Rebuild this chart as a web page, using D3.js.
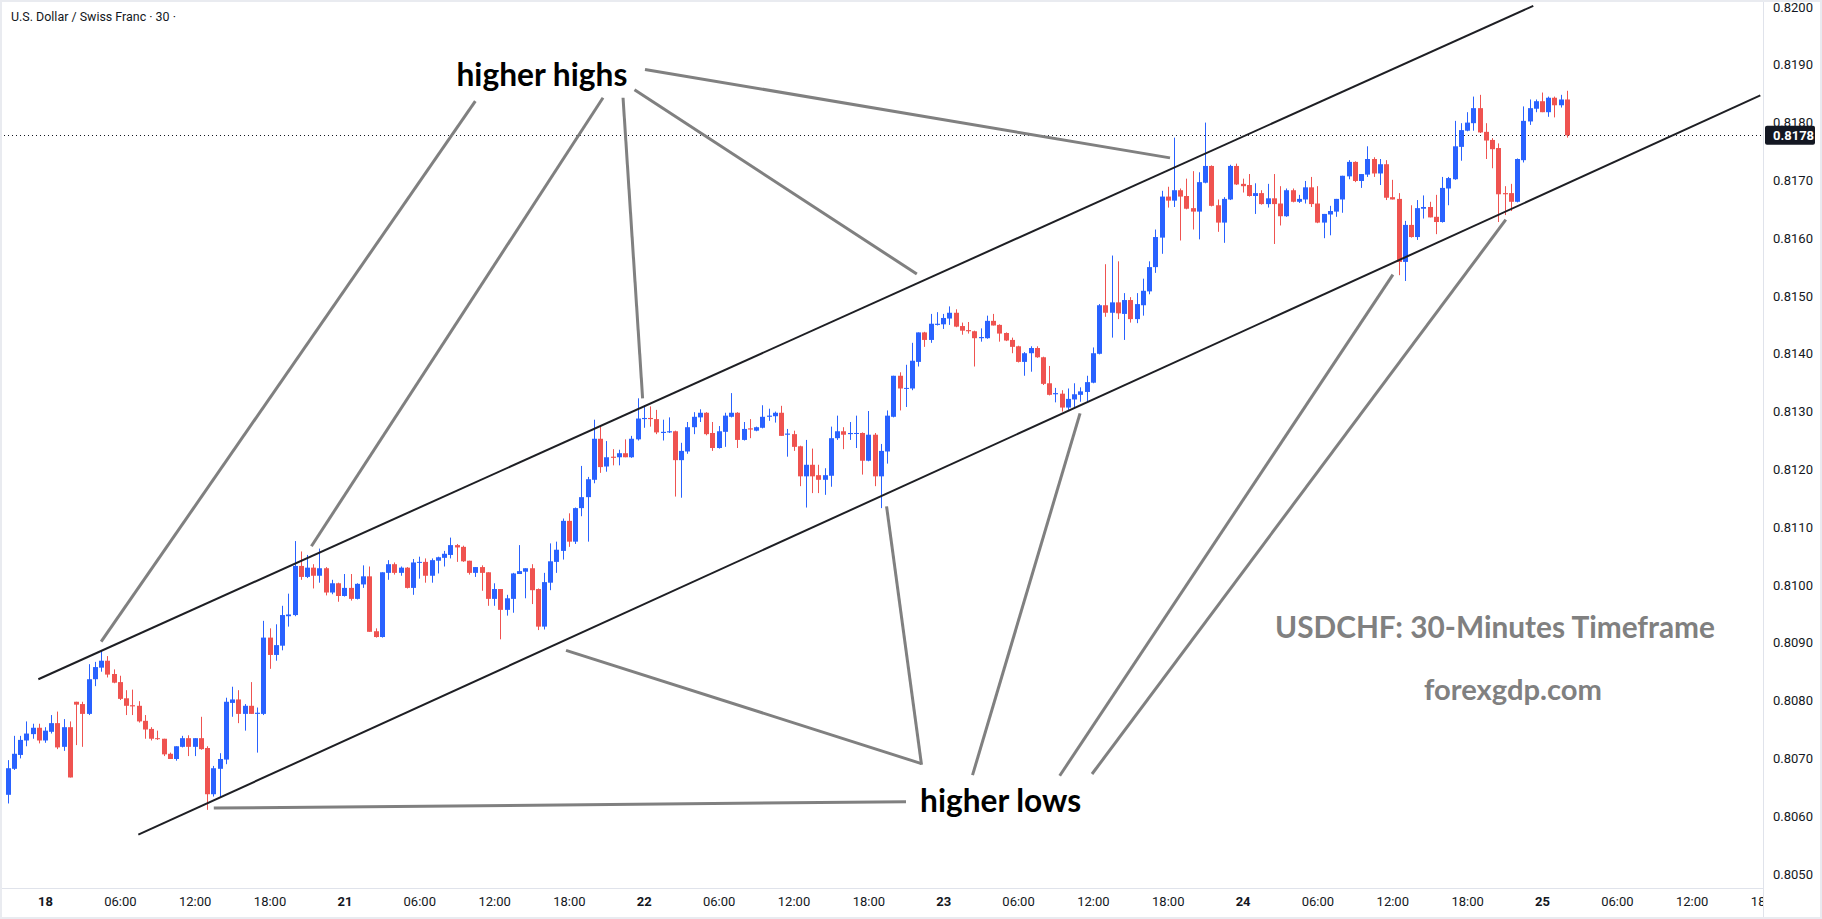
<!DOCTYPE html>
<html>
<head>
<meta charset="utf-8">
<script src="https://cdn.jsdelivr.net/npm/d3@7"></script>
<style>
  body { margin: 0; background: #fff; }
  svg { display: block; }
</style>
</head>
<body>
<div id="chart"></div>
<script>
// bars are counted in half hours from the start of day "18" (first bar is at -6)
var firstBar = -6;

var opens = [
  0.80637,0.80682,0.80706,0.80731,0.80742,0.80753,
  0.80731,0.80746,0.80761,0.80720,0.80754,0.80798,0.80794,0.80777,0.80837,0.80857,
  0.80869,0.80846,0.80832,0.80804,0.80792,0.80791,0.80765,0.80751,0.80735,0.80734,
  0.80708,0.80699,0.80720,0.80735,0.80720,0.80735,0.80718,0.80638,0.80682,0.80698,
  0.80796,0.80802,0.80777,0.80791,0.80777,0.80777,0.80909,0.80879,0.80895,0.80946,
  0.80948,0.81033,0.81014,0.81030,0.81016,0.81029,0.80987,0.81003,0.80981,0.80995,
  0.80976,0.81001,0.81015,0.80920,0.80910,0.81021,0.81036,0.81021,0.81030,0.80995,
  0.81039,0.81040,0.81016,0.81042,0.81047,0.81052,0.81069,0.81066,0.81042,0.81021,
  0.81031,0.81022,0.80976,0.80993,0.80957,0.80976,0.81019,0.81023,0.81029,0.80993,
  0.80928,0.81004,0.81040,0.81059,0.81111,0.81075,0.81133,0.81152,0.81182,0.81253,
  0.81205,0.81222,0.81221,0.81228,0.81221,0.81252,0.81287,0.81289,0.81287,0.81263,
  0.81264,0.81266,0.81216,0.81231,0.81273,0.81290,0.81298,0.81263,0.81237,0.81265,
  0.81291,0.81298,0.81251,0.81271,0.81267,0.81272,0.81291,0.81292,0.81298,0.81260,
  0.81261,0.81240,0.81188,0.81208,0.81190,0.81182,0.81189,0.81254,0.81266,0.81261,
  0.81262,0.81263,0.81215,0.81260,0.81188,0.81231,0.81291,0.81362,0.81340,0.81340,
  0.81386,0.81437,0.81424,0.81450,0.81451,0.81461,0.81471,0.81448,0.81441,0.81439,
  0.81427,0.81427,0.81457,0.81450,0.81436,0.81424,0.81413,0.81386,0.81401,0.81410,
  0.81394,0.81349,0.81330,0.81331,0.81307,0.81321,0.81329,0.81334,0.81350,0.81400,
  0.81484,0.81471,0.81489,0.81469,0.81493,0.81460,0.81484,0.81508,0.81550,0.81601,
  0.81672,0.81665,0.81683,0.81673,0.81652,0.81646,0.81696,0.81725,0.81657,0.81627,
  0.81667,0.81725,0.81694,0.81692,0.81673,0.81678,0.81659,0.81669,0.81660,0.81638,
  0.81683,0.81663,0.81667,0.81688,0.81660,0.81627,0.81641,0.81646,0.81667,0.81707,
  0.81732,0.81699,0.81710,0.81737,0.81712,0.81728,0.81671,0.81668,0.81559,0.81623,
  0.81602,0.81651,0.81654,0.81637,0.81628,0.81686,0.81702,0.81758,0.81786,0.81799,
  0.81825,0.81784,0.81770,0.81756,0.81678,0.81678,0.81663,0.81735,0.81802,0.81824,
  0.81837,0.81818,0.81843,0.81830,0.81840
];
var highs = [
  0.80697,0.80739,0.80739,0.80764,0.80760,0.80760,
  0.80754,0.80775,0.80781,0.80768,0.80764,0.80798,0.80798,0.80863,0.80867,0.80886,
  0.80877,0.80854,0.80843,0.80818,0.80819,0.80799,0.80775,0.80754,0.80748,0.80734,
  0.80710,0.80721,0.80739,0.80740,0.80735,0.80772,0.80721,0.80687,0.80709,0.80805,
  0.80824,0.80818,0.80794,0.80832,0.80788,0.80938,0.80925,0.80932,0.80964,0.80985,
  0.81076,0.81058,0.81052,0.81036,0.81063,0.81031,0.81009,0.81004,0.81019,0.81019,
  0.81003,0.81034,0.81032,0.80925,0.81022,0.81043,0.81039,0.81032,0.81031,0.81045,
  0.81049,0.81046,0.81046,0.81049,0.81059,0.81082,0.81071,0.81068,0.81042,0.81031,
  0.81034,0.81022,0.81003,0.80993,0.80983,0.81021,0.81069,0.81029,0.81036,0.80994,
  0.81021,0.81072,0.81075,0.81115,0.81124,0.81134,0.81206,0.81187,0.81286,0.81274,
  0.81249,0.81235,0.81234,0.81252,0.81258,0.81323,0.81311,0.81309,0.81303,0.81286,
  0.81290,0.81267,0.81246,0.81282,0.81299,0.81304,0.81299,0.81282,0.81275,0.81298,
  0.81332,0.81299,0.81282,0.81287,0.81274,0.81311,0.81305,0.81300,0.81310,0.81270,
  0.81267,0.81241,0.81251,0.81236,0.81208,0.81202,0.81274,0.81293,0.81273,0.81282,
  0.81293,0.81264,0.81301,0.81263,0.81244,0.81302,0.81362,0.81368,0.81381,0.81419,
  0.81437,0.81438,0.81469,0.81472,0.81469,0.81482,0.81477,0.81454,0.81455,0.81440,
  0.81444,0.81466,0.81469,0.81451,0.81437,0.81428,0.81414,0.81403,0.81413,0.81413,
  0.81395,0.81379,0.81341,0.81337,0.81340,0.81349,0.81342,0.81362,0.81411,0.81486,
  0.81555,0.81570,0.81560,0.81505,0.81498,0.81505,0.81530,0.81560,0.81615,0.81682,
  0.81689,0.81774,0.81686,0.81703,0.81716,0.81714,0.81800,0.81726,0.81667,0.81671,
  0.81727,0.81729,0.81703,0.81711,0.81695,0.81683,0.81694,0.81711,0.81690,0.81686,
  0.81686,0.81675,0.81699,0.81706,0.81690,0.81642,0.81656,0.81668,0.81708,0.81735,
  0.81733,0.81711,0.81759,0.81740,0.81737,0.81735,0.81701,0.81678,0.81630,0.81657,
  0.81666,0.81674,0.81663,0.81675,0.81706,0.81706,0.81803,0.81799,0.81818,0.81845,
  0.81848,0.81799,0.81773,0.81764,0.81690,0.81694,0.81738,0.81828,0.81840,0.81840,
  0.81852,0.81845,0.81845,0.81848,0.81855
];
var lows = [
  0.80622,0.80680,0.80700,0.80721,0.80734,0.80726,
  0.80727,0.80743,0.80716,0.80713,0.80667,0.80723,0.80720,0.80775,0.80825,0.80850,
  0.80840,0.80830,0.80801,0.80775,0.80775,0.80762,0.80734,0.80731,0.80732,0.80704,
  0.80699,0.80696,0.80719,0.80704,0.80704,0.80715,0.80611,0.80634,0.80633,0.80690,
  0.80772,0.80761,0.80748,0.80777,0.80710,0.80775,0.80855,0.80869,0.80887,0.80928,
  0.80946,0.81009,0.81012,0.80994,0.81004,0.80982,0.80984,0.80971,0.80980,0.80973,
  0.80975,0.80995,0.80919,0.80909,0.80909,0.81009,0.81018,0.81016,0.80994,0.80983,
  0.81011,0.81004,0.81004,0.81020,0.81032,0.81046,0.81040,0.81040,0.81018,0.81014,
  0.80990,0.80964,0.80964,0.80906,0.80947,0.80952,0.81019,0.80977,0.80967,0.80922,
  0.80923,0.80991,0.81021,0.81044,0.81066,0.81071,0.81119,0.81075,0.81176,0.81194,
  0.81196,0.81207,0.81207,0.81221,0.81220,0.81250,0.81272,0.81274,0.81261,0.81250,
  0.81263,0.81153,0.81151,0.81227,0.81261,0.81282,0.81259,0.81232,0.81236,0.81239,
  0.81290,0.81237,0.81250,0.81254,0.81266,0.81271,0.81284,0.81281,0.81258,0.81222,
  0.81232,0.81171,0.81134,0.81159,0.81159,0.81156,0.81170,0.81251,0.81235,0.81251,
  0.81237,0.81191,0.81214,0.81171,0.81133,0.81210,0.81290,0.81302,0.81308,0.81337,
  0.81378,0.81412,0.81419,0.81449,0.81443,0.81450,0.81446,0.81433,0.81435,0.81378,
  0.81421,0.81426,0.81449,0.81421,0.81422,0.81401,0.81385,0.81362,0.81369,0.81393,
  0.81346,0.81328,0.81316,0.81300,0.81303,0.81308,0.81317,0.81317,0.81349,0.81399,
  0.81464,0.81428,0.81460,0.81424,0.81454,0.81453,0.81466,0.81503,0.81540,0.81573,
  0.81653,0.81654,0.81596,0.81650,0.81615,0.81598,0.81695,0.81655,0.81611,0.81592,
  0.81666,0.81692,0.81679,0.81672,0.81642,0.81658,0.81653,0.81590,0.81622,0.81637,
  0.81662,0.81661,0.81660,0.81654,0.81626,0.81600,0.81605,0.81637,0.81644,0.81702,
  0.81697,0.81687,0.81706,0.81706,0.81692,0.81666,0.81667,0.81536,0.81526,0.81601,
  0.81597,0.81634,0.81636,0.81607,0.81627,0.81657,0.81701,0.81734,0.81785,0.81786,
  0.81782,0.81737,0.81721,0.81628,0.81640,0.81647,0.81662,0.81731,0.81796,0.81818,
  0.81818,0.81810,0.81809,0.81826,0.81774
];
var closes = [
  0.80683,0.80708,0.80732,0.80743,0.80753,0.80731,
  0.80748,0.80761,0.80719,0.80754,0.80667,0.80793,0.80777,0.80837,0.80858,0.80869,
  0.80845,0.80831,0.80803,0.80791,0.80790,0.80764,0.80750,0.80734,0.80734,0.80707,
  0.80699,0.80721,0.80735,0.80720,0.80735,0.80716,0.80638,0.80683,0.80699,0.80798,
  0.80802,0.80777,0.80791,0.80777,0.80779,0.80909,0.80879,0.80896,0.80948,0.80949,
  0.81033,0.81014,0.81030,0.81016,0.81029,0.80987,0.81003,0.80981,0.80995,0.80976,
  0.81002,0.81015,0.80919,0.80910,0.81022,0.81036,0.81021,0.81030,0.80995,0.81039,
  0.81040,0.81016,0.81043,0.81048,0.81054,0.81069,0.81065,0.81041,0.81021,0.81031,
  0.81021,0.80976,0.80993,0.80957,0.80977,0.81020,0.81024,0.81029,0.80991,0.80928,
  0.81005,0.81041,0.81061,0.81111,0.81075,0.81133,0.81152,0.81183,0.81253,0.81204,
  0.81221,0.81220,0.81228,0.81221,0.81253,0.81288,0.81289,0.81287,0.81264,0.81265,
  0.81266,0.81216,0.81232,0.81273,0.81291,0.81298,0.81261,0.81237,0.81266,0.81293,
  0.81298,0.81251,0.81270,0.81269,0.81273,0.81291,0.81293,0.81298,0.81258,0.81262,
  0.81239,0.81188,0.81208,0.81188,0.81182,0.81190,0.81254,0.81266,0.81260,0.81263,
  0.81263,0.81215,0.81260,0.81188,0.81232,0.81293,0.81362,0.81340,0.81341,0.81388,
  0.81437,0.81424,0.81452,0.81452,0.81462,0.81471,0.81447,0.81440,0.81439,0.81427,
  0.81429,0.81457,0.81449,0.81435,0.81423,0.81412,0.81386,0.81401,0.81410,0.81394,
  0.81348,0.81329,0.81332,0.81307,0.81322,0.81330,0.81335,0.81351,0.81401,0.81484,
  0.81471,0.81489,0.81470,0.81493,0.81460,0.81486,0.81509,0.81550,0.81602,0.81672,
  0.81665,0.81683,0.81672,0.81651,0.81646,0.81697,0.81725,0.81656,0.81627,0.81668,
  0.81725,0.81693,0.81690,0.81673,0.81678,0.81659,0.81669,0.81659,0.81638,0.81683,
  0.81663,0.81668,0.81688,0.81659,0.81627,0.81642,0.81647,0.81668,0.81708,0.81732,
  0.81699,0.81711,0.81737,0.81712,0.81728,0.81670,0.81667,0.81559,0.81623,0.81602,
  0.81652,0.81654,0.81636,0.81628,0.81687,0.81704,0.81759,0.81787,0.81800,0.81825,
  0.81783,0.81769,0.81754,0.81676,0.81676,0.81663,0.81737,0.81803,0.81825,0.81837,
  0.81818,0.81843,0.81830,0.81840,0.81778
];

var yTicks = [0.8050,0.8060,0.8070,0.8080,0.8090,0.8100,0.8110,0.8120,0.8130,0.8140,
              0.8150,0.8160,0.8170,0.8180,0.8190,0.8200];
var xTickBars = [0,12,24,36,48,60,72,84,96,108,120,132,144,156,168,180,192,204,216,228,240,252,264,276];
var xTickLabels = ["18","06:00","12:00","18:00","21","06:00","12:00","18:00","22","06:00","12:00","18:00",
                   "23","06:00","12:00","18:00","24","06:00","12:00","18:00","25","06:00","12:00","18:00"];

// drawings, as [bar, price] anchors
var channelUpper = [[-1.07, 0.80837], [238.6, 0.82002]];
var channelLower = [[14.96, 0.80568], [275, 0.81847]];
var highsPointers = [
  [[68.99, 0.81837], [9.0, 0.80902]],
  [[89.46, 0.81843], [42.71, 0.81067]],
  [[92.67, 0.81843], [95.81, 0.81323]],
  [[94.51, 0.81857], [139.77, 0.81538]],
  [[96.19, 0.81892], [180.36, 0.81739]]
];
var lowsPointers = [
  [[27.06, 0.80614], [138.04, 0.80625]],
  [[83.53, 0.80887], [140.52, 0.80691]],
  [[134.92, 0.81136], [140.52, 0.80689]],
  [[165.94, 0.81297], [148.7, 0.80671]],
  [[216.1, 0.81537], [162.68, 0.80670]],
  [[234.2, 0.81632], [167.86, 0.80673]]
];
var highsLabel = [79.67, 0.81881];
var lowsLabel = [153.2, 0.80625];

var width = 1822, height = 919;
var plotRight = 1763, plotBottom = 888;
var upColor = "#2962ff", downColor = "#ef5350";
var textColor = "#131722";

var svg = d3.select("#chart").append("svg")
    .attr("width", width)
    .attr("height", height)
    .style("font-family", "Roboto, 'Liberation Sans', sans-serif");

svg.append("rect").attr("width", width).attr("height", height).attr("fill", "#fff");

var defs = svg.append("defs");
defs.append("clipPath").attr("id", "plotClip")
  .append("rect").attr("x", 0).attr("y", 0).attr("width", plotRight).attr("height", plotBottom);

var x = d3.scaleLinear().domain([0, 240]).range([45, 1542]);
var y = d3.scaleLinear().domain([0.8050, 0.8200]).range([874, 7]);

var bars = opens.map(function(o, i) {
  return {k: firstBar + i, o: o, h: highs[i], l: lows[i], c: closes[i]};
});
var barColor = function(d) { return d.c >= d.o ? upColor : downColor; };
var cx = function(d) { return Math.round(x(d.k)); };

var plot = svg.append("g").attr("clip-path", "url(#plotClip)");

// last price dotted line
var last = bars[bars.length - 1];
plot.append("line")
    .attr("x1", 0).attr("x2", plotRight)
    .attr("y1", Math.round(y(last.c)) + 0.5).attr("y2", Math.round(y(last.c)) + 0.5)
    .attr("stroke", textColor)
    .attr("stroke-width", 1)
    .attr("stroke-dasharray", "1,3");

plot.selectAll(".wick")
    .data(bars)
    .enter().append("line")
    .attr("class", "wick")
    .attr("x1", d => cx(d) + 0.5)
    .attr("x2", d => cx(d) + 0.5)
    .attr("y1", d => y(d.h))
    .attr("y2", d => y(d.l))
    .attr("stroke", barColor)
    .attr("stroke-width", 1);

plot.selectAll(".body")
    .data(bars)
    .enter().append("rect")
    .attr("class", "body")
    .attr("x", d => cx(d) - 2)
    .attr("width", 5)
    .attr("y", d => y(Math.max(d.o, d.c)))
    .attr("height", d => Math.max(1, Math.abs(y(d.o) - y(d.c))))
    .attr("fill", barColor);

// channel
var lineGen = d3.line().x(d => x(d[0])).y(d => y(d[1]));
plot.selectAll(".channel")
    .data([channelUpper, channelLower])
    .enter().append("path")
    .attr("class", "channel")
    .attr("d", lineGen)
    .attr("fill", "none")
    .attr("stroke", "#1e1f24")
    .attr("stroke-width", 2);

// pointers
plot.selectAll(".pointer")
    .data(highsPointers.concat(lowsPointers))
    .enter().append("path")
    .attr("class", "pointer")
    .attr("d", lineGen)
    .attr("fill", "none")
    .attr("stroke", "#808080")
    .attr("stroke-width", 3);

function fitWidth(sel, target) {
  var w = sel.node().getComputedTextLength();
  var fs = parseFloat(sel.attr("font-size"));
  sel.attr("font-size", (fs * target / w).toFixed(2));
}

var hh = plot.append("text")
    .attr("x", x(highsLabel[0])).attr("y", y(highsLabel[1]))
    .attr("text-anchor", "middle").attr("dy", "0.32em")
    .attr("font-family", "Lato, 'Open Sans', sans-serif")
    .attr("font-weight", 700).attr("font-size", 32)
    .attr("fill", "#000")
    .text("higher highs");
fitWidth(hh, 171);

var hl = plot.append("text")
    .attr("x", x(lowsLabel[0])).attr("y", y(lowsLabel[1]))
    .attr("text-anchor", "middle").attr("dy", "0.32em")
    .attr("font-family", "Lato, 'Open Sans', sans-serif")
    .attr("font-weight", 700).attr("font-size", 32)
    .attr("fill", "#000")
    .text("higher lows");
fitWidth(hl, 161);

var wm1 = plot.append("text")
    .attr("x", 1495).attr("y", 628)
    .attr("text-anchor", "middle").attr("dy", "0.35em")
    .attr("font-family", "Lato, 'Open Sans', sans-serif")
    .attr("font-weight", 700).attr("font-size", 30)
    .attr("fill", "#808080")
    .text("USDCHF: 30-Minutes Timeframe");
fitWidth(wm1, 440);

var wm2 = plot.append("text")
    .attr("x", 1513).attr("y", 690)
    .attr("text-anchor", "middle").attr("dy", "0.35em")
    .attr("font-family", "Lato, 'Open Sans', sans-serif")
    .attr("font-weight", 700).attr("font-size", 30)
    .attr("fill", "#808080")
    .text("forexgdp.com");
fitWidth(wm2, 178);

// title
var title = svg.append("text")
    .attr("x", 11).attr("y", 17).attr("dy", "0.35em")
    .attr("font-size", 13)
    .attr("fill", textColor)
    .text("U.S. Dollar / Swiss Franc \u00b7 30 \u00b7");
fitWidth(title, 165);

// separators
svg.append("line")
    .attr("x1", 0).attr("x2", plotRight)
    .attr("y1", plotBottom + 0.5).attr("y2", plotBottom + 0.5)
    .attr("stroke", "#e0e3eb");
svg.append("line")
    .attr("x1", plotRight + 0.5).attr("x2", plotRight + 0.5)
    .attr("y1", 0).attr("y2", height)
    .attr("stroke", "#e0e3eb");

// price axis
var yAxis = d3.axisRight(y).tickValues(yTicks).tickSize(0).tickPadding(10)
    .tickFormat(d3.format(".4f"));
var yAxisG = svg.append("g")
    .attr("transform", "translate(" + plotRight + ",0)")
    .call(yAxis);
yAxisG.select(".domain").remove();
yAxisG.selectAll("text")
    .attr("font-size", 13)
    .attr("font-family", "Roboto, 'Liberation Sans', sans-serif")
    .attr("fill", textColor);

// last price label
var lastY = y(last.c);
svg.append("rect")
    .attr("x", plotRight + 2).attr("y", lastY - 9.5)
    .attr("width", 50).attr("height", 19)
    .attr("rx", 2)
    .attr("fill", textColor);
svg.append("text")
    .attr("x", plotRight + 10).attr("y", lastY).attr("dy", "0.35em")
    .attr("font-size", 13).attr("font-weight", 700)
    .attr("fill", "#fff")
    .text(d3.format(".4f")(last.c));

// time axis
defs.append("clipPath").attr("id", "timeClip")
  .append("rect").attr("x", 0).attr("y", plotBottom).attr("width", plotRight).attr("height", height - plotBottom);
var xAxis = d3.axisBottom(x).tickValues(xTickBars).tickSize(0).tickPadding(9)
    .tickFormat((d, i) => xTickLabels[i]);
var xAxisG = svg.append("g")
    .attr("clip-path", "url(#timeClip)")
  .append("g")
    .attr("transform", "translate(0," + plotBottom + ")")
    .call(xAxis);
xAxisG.select(".domain").remove();
xAxisG.selectAll("text")
    .attr("font-size", 13)
    .attr("font-family", "Roboto, 'Liberation Sans', sans-serif")
    .attr("fill", textColor)
    .attr("font-weight", (d, i) => xTickLabels[i].indexOf(":") < 0 ? 700 : 400);

// frame
svg.append("rect")
    .attr("x", 1).attr("y", 1)
    .attr("width", width - 2).attr("height", height - 2)
    .attr("fill", "none")
    .attr("stroke", "#e9ebf0")
    .attr("stroke-width", 2);
</script>
</body>
</html>
